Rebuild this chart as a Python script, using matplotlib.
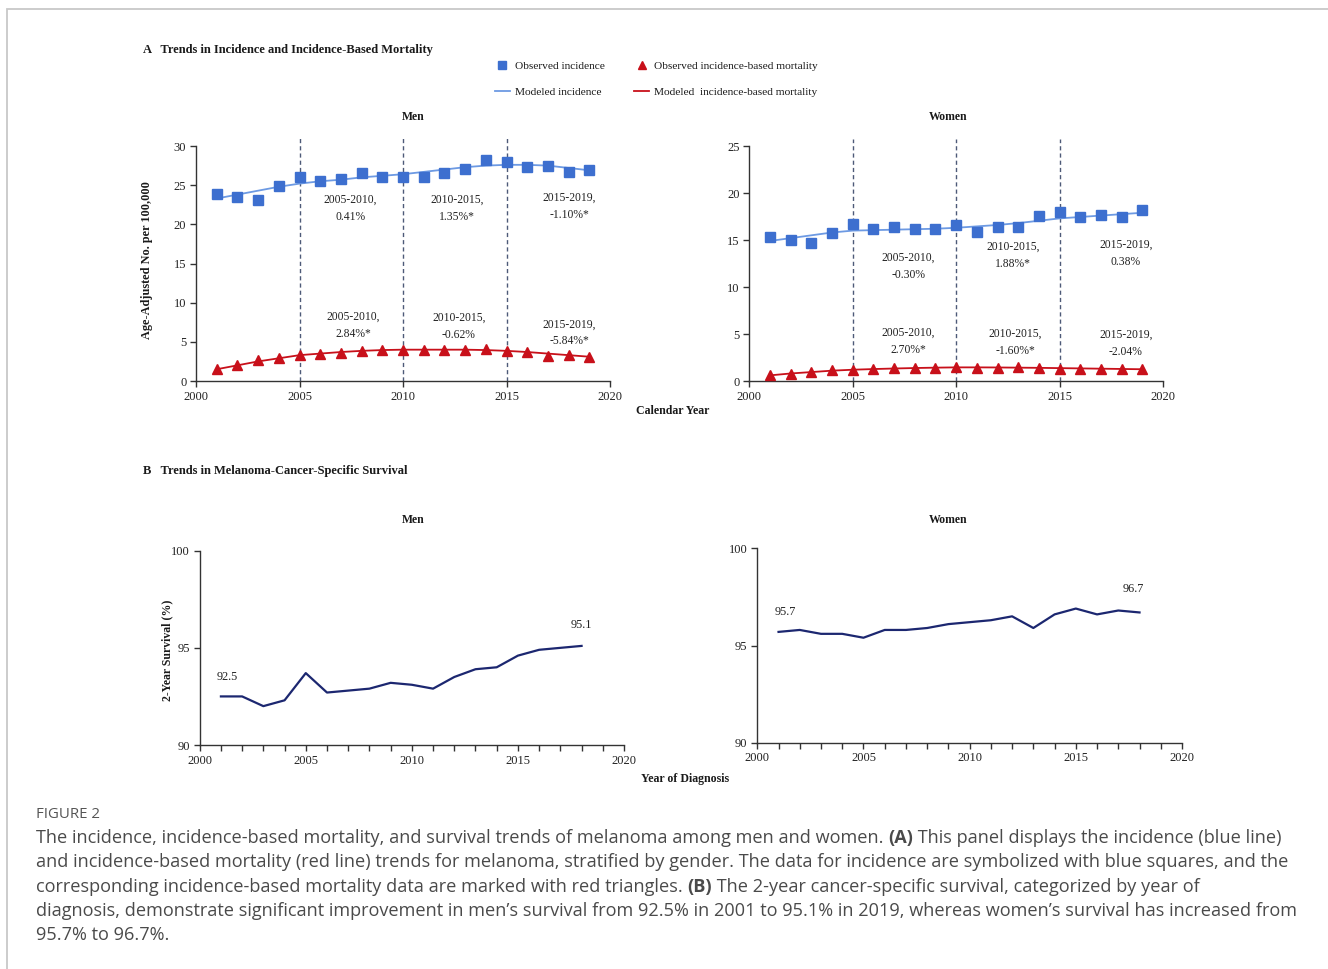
import matplotlib
matplotlib.use("Agg")
import matplotlib.pyplot as plt
from matplotlib.lines import Line2D
from matplotlib.patches import Rectangle

# ---- data ----
years = list(range(2001, 2020))
surv_years = list(range(2001, 2019))

men_inc_obs = [23.9, 23.5, 23.1, 24.9, 26.0, 25.5, 25.8, 26.6, 26.1, 26.1,
               26.0, 26.5, 27.1, 28.2, 28.0, 27.3, 27.4, 26.7, 27.0]
men_inc_mod = [23.3, 23.8, 24.3, 24.8, 25.2, 25.5, 25.7, 26.0, 26.2, 26.4,
               26.7, 27.0, 27.3, 27.5, 27.6, 27.6, 27.5, 27.2, 26.9]
men_mort_obs = [1.5, 2.1, 2.7, 3.0, 3.3, 3.5, 3.6, 3.8, 3.95, 3.9,
                4.0, 4.0, 4.0, 4.1, 3.8, 3.65, 3.2, 3.35, 3.1]
men_mort_mod = [1.5, 2.0, 2.5, 2.9, 3.3, 3.5, 3.7, 3.85, 3.95, 4.0,
                4.0, 4.0, 4.0, 3.95, 3.85, 3.7, 3.5, 3.3, 3.1]

women_inc_obs = [15.3, 15.05, 14.65, 15.7, 16.7, 16.15, 16.4, 16.15, 16.15, 16.6,
                 15.8, 16.35, 16.4, 17.6, 18.0, 17.5, 17.7, 17.5, 18.2]
women_inc_mod = [14.9, 15.2, 15.5, 15.8, 16.0, 16.05, 16.1, 16.15, 16.2, 16.3,
                 16.45, 16.6, 16.8, 17.05, 17.3, 17.45, 17.6, 17.75, 17.9]
women_mort_obs = [0.6, 0.75, 0.95, 1.13, 1.13, 1.27, 1.35, 1.35, 1.38, 1.45,
                  1.38, 1.4, 1.45, 1.38, 1.3, 1.27, 1.24, 1.3, 1.24]
women_mort_mod = [0.6, 0.8, 0.95, 1.1, 1.2, 1.27, 1.33, 1.38, 1.42, 1.45,
                  1.45, 1.44, 1.42, 1.4, 1.37, 1.34, 1.31, 1.28, 1.25]

men_surv = [92.5, 92.5, 92.0, 92.3, 93.7, 92.7, 92.8, 92.9, 93.2, 93.1,
            92.9, 93.5, 93.9, 94.0, 94.6, 94.9, 95.0, 95.1]
women_surv = [95.7, 95.8, 95.6, 95.6, 95.4, 95.8, 95.8, 95.9, 96.1, 96.2,
              96.3, 96.5, 95.9, 96.6, 96.9, 96.6, 96.8, 96.7]

joinpoints = [2005, 2010, 2015]
men_inc_apc = ["2005-2010,\n0.41%", "2010-2015,\n1.35%*", "2015-2019,\n-1.10%*"]
men_mort_apc = ["2005-2010,\n2.84%*", "2010-2015,\n-0.62%", "2015-2019,\n-5.84%*"]
women_inc_apc = ["2005-2010,\n-0.30%", "2010-2015,\n1.88%*", "2015-2019,\n0.38%"]
women_mort_apc = ["2005-2010,\n2.70%*", "2010-2015,\n-1.60%*", "2015-2019,\n-2.04%"]

# colours
SQ_BLUE = "#3d6fcf"
LINE_BLUE = "#6d9ae3"
RED = "#c8101a"
NAVY = "#1c2770"
DASH = "#4d5a78"
AX = "#333333"

SERIF = "Liberation Serif"
W, H = 1328, 969

fig = plt.figure(figsize=(W / 100, H / 100), dpi=100, facecolor="white")


def add_ax(x0, x1, ytop, ybot):
    # pixel box -> figure fraction
    return fig.add_axes([x0 / W, 1 - ybot / H, (x1 - x0) / W, (ybot - ytop) / H])


def style(ax, yticks, ybounds, minor=False):
    for s in ["top", "right"]:
        ax.spines[s].set_visible(False)
    for s in ["left", "bottom"]:
        ax.spines[s].set_color(AX)
        ax.spines[s].set_linewidth(1.0)
    ax.spines["left"].set_bounds(*ybounds)
    ax.set_xlim(2000, 2020)
    ax.set_xticks([2000, 2005, 2010, 2015, 2020])
    ax.set_yticks(yticks)
    if minor:
        ax.set_xticks(range(2000, 2021), minor=True)
        ax.tick_params(axis="x", which="minor", length=4, width=1, color=AX, direction="out")
    ax.tick_params(which="major", length=4, width=1, color=AX, direction="out",
                   labelsize=9, labelcolor="#222222", pad=3)
    for lab in ax.get_xticklabels() + ax.get_yticklabels():
        lab.set_fontfamily(SERIF)
    ax.patch.set_alpha(0)


def panel_a(ax, inc_obs, inc_mod, mort_obs, mort_mod, inc_apc, mort_apc,
            inc_pos, mort_pos, ytop):
    for jp in joinpoints:
        ax.plot([jp, jp], [0, ytop], ls=(0, (3, 2.2)), color=DASH, lw=1.0, zorder=1)
    ax.plot(years, inc_mod, color=LINE_BLUE, lw=1.3, zorder=2)
    ax.plot(years, inc_obs, ls="none", marker="s", ms=6.8, color=SQ_BLUE, zorder=3)
    ax.plot(years, mort_mod, color=RED, lw=1.3, zorder=2)
    ax.plot(years, mort_obs, ls="none", marker="^", ms=6.8, color=RED, zorder=3)
    for txt, (x, y) in zip(inc_apc, inc_pos):
        ax.text(x, y, txt, ha="center", va="center", fontsize=8.4, family=SERIF,
                color="#222222", linespacing=1.55)
    for txt, (x, y) in zip(mort_apc, mort_pos):
        ax.text(x, y, txt, ha="center", va="center", fontsize=8.4, family=SERIF,
                color="#222222", linespacing=1.55)


# ---- Panel A, men ----
ax1 = add_ax(196, 610, 138.2, 381)
ax1.set_ylim(0, 31)
style(ax1, [0, 5, 10, 15, 20, 25, 30], (0, 30))
panel_a(ax1, men_inc_obs, men_inc_mod, men_mort_obs, men_mort_mod,
        men_inc_apc, men_mort_apc,
        [(2007.45, 22.0), (2012.6, 22.0), (2018.05, 22.3)],
        [(2007.6, 7.1), (2012.7, 7.0), (2018.05, 6.15)], 31)

# ---- Panel A, women ----
ax2 = add_ax(749.3, 1163, 138.5, 381)
ax2.set_ylim(0, 25.8)
style(ax2, [0, 5, 10, 15, 20, 25], (0, 25))
panel_a(ax2, women_inc_obs, women_inc_mod, women_mort_obs, women_mort_mod,
        women_inc_apc, women_mort_apc,
        [(2007.7, 12.2), (2012.75, 13.4), (2018.2, 13.6)],
        [(2007.7, 4.2), (2012.85, 4.1), (2018.2, 4.0)], 25.8)

# ---- Panel B, men ----
ax3 = add_ax(199.7, 624, 550.7, 745)
ax3.set_ylim(90, 100)
style(ax3, [90, 95, 100], (90, 100), minor=True)
ax3.plot(surv_years, men_surv, color=NAVY, lw=1.6)
ax3.text(2001.3, 93.5, f"{men_surv[0]}", ha="center", va="center", fontsize=8.8,
         family=SERIF, color="#222222")
ax3.text(2018.0, 96.2, f"{men_surv[-1]}", ha="center", va="center", fontsize=8.8,
         family=SERIF, color="#222222")

# ---- Panel B, women ----
ax4 = add_ax(757.3, 1182, 548.3, 742.7)
ax4.set_ylim(90, 100)
style(ax4, [90, 95, 100], (90, 100), minor=True)
ax4.plot(surv_years, women_surv, color=NAVY, lw=1.6)
ax4.text(2001.3, 96.7, f"{women_surv[0]}", ha="center", va="center", fontsize=8.8,
         family=SERIF, color="#222222")
ax4.text(2017.7, 97.9, f"{women_surv[-1]}", ha="center", va="center", fontsize=8.8,
         family=SERIF, color="#222222")


def ftext(x, y, s, **kw):
    opts = dict(family=SERIF, color="#1a1a1a", ha="center", va="center")
    opts.update(kw)
    return fig.text(x / W, 1 - y / H, s, **opts)


# headings and axis titles
ftext(143, 50, "A   Trends in Incidence and Incidence-Based Mortality", ha="left",
      fontsize=9.0, weight="bold")
ftext(143, 471, "B   Trends in Melanoma-Cancer-Specific Survival", ha="left",
      fontsize=9.0, weight="bold")
ftext(413, 117, "Men", fontsize=8.5, weight="bold")
ftext(948, 117, "Women", fontsize=8.5, weight="bold")
ftext(413, 520, "Men", fontsize=8.5, weight="bold")
ftext(948, 520, "Women", fontsize=8.5, weight="bold")
ftext(673, 411, "Calendar Year", fontsize=8.6, weight="bold")
ftext(685, 779, "Year of Diagnosis", fontsize=8.6, weight="bold")
ftext(147, 260, "Age-Adjusted No. per 100,000", fontsize=8.8, weight="bold", rotation=90)
ftext(167, 650, "2-Year Survival (%)", fontsize=8.5, weight="bold", rotation=90)

# legend
handles = [
    Line2D([], [], ls="none", marker="s", ms=5.5, color=SQ_BLUE),
    Line2D([], [], color=LINE_BLUE, lw=1.3),
    Line2D([], [], ls="none", marker="^", ms=5.5, color=RED),
    Line2D([], [], color=RED, lw=1.3),
]
labels = ["Observed incidence", "Modeled incidence",
          "Observed incidence-based mortality", "Modeled  incidence-based mortality"]
leg = fig.legend(handles, labels, ncol=2, loc="upper left",
                 bbox_to_anchor=(495 / W, 1 - 61 / H), frameon=False,
                 prop={"family": SERIF, "size": 8.2}, handlelength=1.3,
                 handletextpad=0.45, columnspacing=2.6, labelspacing=1.45,
                 borderpad=0, borderaxespad=0)
for t in leg.get_texts():
    t.set_color("#1a1a1a")

# frame around the figure block
fig.patches.append(Rectangle((6.5 / W, -0.1), 2, 1 - 9 / H + 0.1, transform=fig.transFigure,
                             fill=False, edgecolor="#c8c8c8", lw=1.3))

# caption
CAP = "Open Sans"
CAP_SIZE = 13.1
ftext(36, 815, "FIGURE 2", ha="left", family=CAP, fontsize=10.8, color="#555555")

cap_lines = [
    [("The incidence, incidence-based mortality, and survival trends of melanoma among men and women. ", "normal"),
     ("(A)", "bold"), (" This panel displays the incidence (blue line)", "normal")],
    [("and incidence-based mortality (red line) trends for melanoma, stratified by gender. The data for incidence are symbolized with blue squares, and the", "normal")],
    [("corresponding incidence-based mortality data are marked with red triangles. ", "normal"),
     ("(B)", "bold"), (" The 2-year cancer-specific survival, categorized by year of", "normal")],
    [("diagnosis, demonstrate significant improvement in men\u2019s survival from 92.5% in 2001 to 95.1% in 2019, whereas women\u2019s survival has increased from", "normal")],
    [("95.7% to 96.7%.", "normal")],
]
renderer = fig.canvas.get_renderer()
for i, runs in enumerate(cap_lines):
    x = 36
    y = 838 + i * 24.3
    for s, wgt in runs:
        t = ftext(x, y, s, ha="left", family=CAP, fontsize=CAP_SIZE, weight=wgt,
                  color="#4a4a4a")
        x += t.get_window_extent(renderer).width

fig.savefig("out.png", dpi=100, facecolor="white")
